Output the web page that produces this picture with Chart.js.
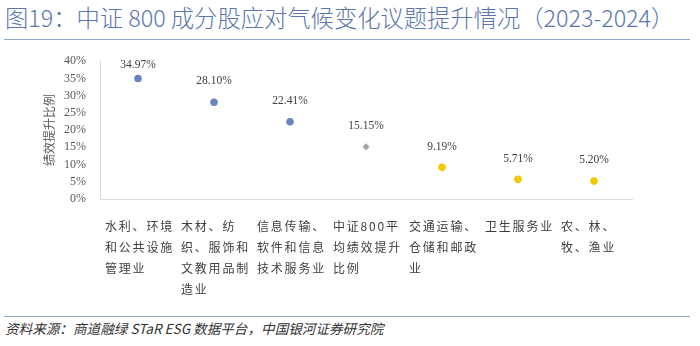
<!DOCTYPE html>
<html>
<head>
<meta charset="utf-8">
<title>中证800成分股应对气候变化议题提升情况</title>
<script src="https://cdn.jsdelivr.net/npm/chart.js@4.4.1/dist/chart.umd.min.js"></script>
<style>
  html, body { margin: 0; padding: 0; background: #fff; }
  #wrap { position: relative; width: 700px; height: 346px; overflow: hidden; }
  #title {
    position: absolute; left: 5px; top: 0; line-height: 34px;
    font: 300 23.3px "Noto Sans CJK SC", sans-serif; color: #5a76b0; white-space: nowrap;
  }
  .rule { position: absolute; left: 4px; width: 686px; border-top: 1px solid #93a8d0; }
  #box { position: absolute; left: 0; top: 40px; width: 700px; height: 276px; }
  #source {
    position: absolute; left: 5px; top: 318px;
    font: italic 13.6px "Noto Sans CJK SC", sans-serif; color: #333; white-space: nowrap;
  }
</style>
</head>
<body>
<div id="wrap">
  <div id="title">图19：中证 800 成分股应对气候变化议题提升情况（2023-2024）</div>
  <div class="rule" style="top:39px"></div>
  <div id="box"><canvas id="climate-chart"></canvas></div>
  <div class="rule" style="top:316px"></div>
  <div id="source">资料来源：商道融绿 STaR ESG 数据平台，中国银河证券研究院</div>
</div>

<script>
// industries, wrapped the way they appear under the axis
const industries = [
  ['水利、环境', '和公共设施', '管理业'],
  ['木材、纺', '织、服饰和', '文教用品制', '造业'],
  ['信息传输、', '软件和信息', '技术服务业'],
  ['中证800平', '均绩效提升', '比例'],
  ['交通运输、', '仓储和邮政', '业'],
  ['卫生服务业'],
  ['农、林、', '牧、渔业']
];
// share of companies whose performance improved (%)
const improveRate = [34.97, 28.10, 22.41, 15.15, 9.19, 5.71, 5.20];
const averageIndex = 3; // the CSI 800 overall figure
const yTicks = [0, 5, 10, 15, 20, 25, 30, 35, 40];

const BLUE = '#6985c0';
const GREY = '#a5a5a5';
const YELLOW = '#f2c800';
const avg = improveRate[averageIndex];

function pointColor(ctx) {
  const v = improveRate[ctx.dataIndex];
  if (ctx.dataIndex === averageIndex) return GREY;
  return v > avg ? BLUE : YELLOW;
}

// wider letter spacing for the category labels only
// (x axis is drawn before the datasets, y axis layers after them)
const labelSpacing = {
  id: 'labelSpacing',
  beforeDraw(chart) { chart.ctx.letterSpacing = '1.8px'; },
  beforeDatasetsDraw(chart) { chart.ctx.letterSpacing = '0px'; }
};

// value labels above each point, slightly condensed
const valueLabels = {
  id: 'valueLabels',
  afterDatasetsDraw(chart) {
    const ctx = chart.ctx;
    const meta = chart.getDatasetMeta(0);
    meta.data.forEach((pt, i) => {
      const y = Math.max(pt.y - 21, chart.chartArea.top + 4);
      ctx.save();
      ctx.font = '12.5px "Liberation Serif", serif';
      ctx.fillStyle = '#404040';
      ctx.textAlign = 'center';
      ctx.textBaseline = 'middle';
      ctx.translate(pt.x, y);
      ctx.scale(0.92, 1);
      ctx.fillText(improveRate[i].toFixed(2) + '%', 0, 0);
      ctx.restore();
    });
  }
};

new Chart(document.getElementById('climate-chart').getContext('2d'), {
  type: 'line',
  data: {
    labels: industries,
    datasets: [{
      data: improveRate,
      showLine: false,
      pointStyle: ctx => ctx.dataIndex === averageIndex ? 'rectRot' : 'circle',
      pointRadius: ctx => ctx.dataIndex === averageIndex ? 3.6 : 3.8,
      pointBackgroundColor: pointColor,
      pointBorderColor: pointColor,
      pointBorderWidth: 0
    }]
  },
  options: {
    responsive: true,
    maintainAspectRatio: false,
    animation: false,
    layout: { padding: { left: 42, right: 68, top: 13, bottom: 0 } },
    plugins: {
      legend: { display: false },
      tooltip: { enabled: false }
    },
    scales: {
      x: {
        offset: true,
        afterFit(scale) { scale.height = 117; },
        grid: { display: false, drawTicks: false },
        border: { display: true, color: '#d9d9d9', width: 1 },
        ticks: {
          autoSkip: false,
          maxRotation: 0,
          minRotation: 0,
          align: 'start',
          labelOffset: -33,
          padding: 17,
          color: '#404040',
          font: { family: '"Noto Sans CJK SC", sans-serif', size: 12, lineHeight: 1.75 }
        }
      },
      y: {
        min: 0,
        max: 40,
        afterFit(scale) { scale.width = 58; },
        afterBuildTicks(scale) { scale.ticks = yTicks.map(v => ({ value: v })); },
        grid: { display: false, drawTicks: false, z: 1 },
        border: { display: true, color: '#d9d9d9', width: 1, z: 1 },
        ticks: {
          z: 1,
          autoSkip: false,
          padding: 14,
          color: '#595959',
          font: { family: '"Liberation Serif", serif', size: 12 },
          callback: v => v + '%'
        },
        title: {
          display: true,
          text: '绩效提升比例',
          color: '#595959',
          padding: 0,
          font: { family: '"Noto Sans CJK SC", sans-serif', size: 12, lineHeight: 1.3 }
        }
      }
    }
  },
  plugins: [labelSpacing, valueLabels]
});
</script>
</body>
</html>
